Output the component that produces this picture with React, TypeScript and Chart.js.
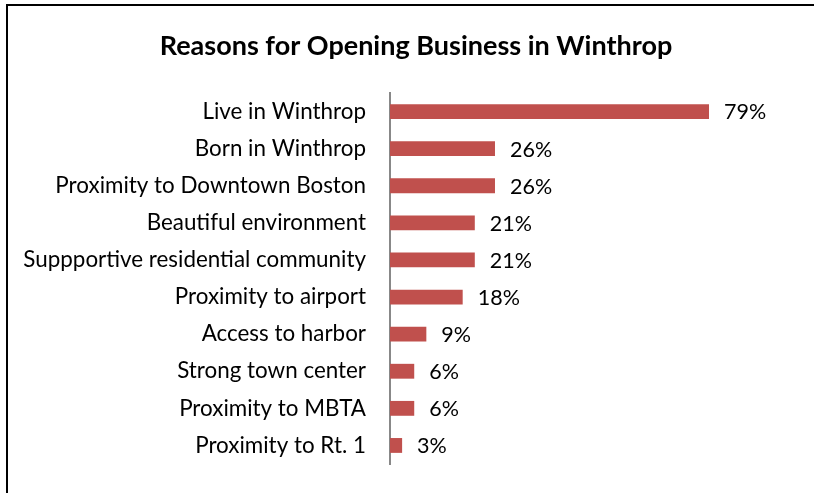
import React, { useEffect, useRef } from "react";
import { Chart, registerables } from "chart.js";

Chart.register(...registerables);

const categories = [
  "Live in Winthrop",
  "Born in Winthrop",
  "Proximity to Downtown Boston",
  "Beautiful environment",
  "Suppportive residential community",
  "Proximity to airport",
  "Access to harbor",
  "Strong town center",
  "Proximity to MBTA",
  "Proximity to Rt. 1",
];
const values = [79, 26, 26, 21, 21, 18, 9, 6, 6, 3];
const valueLabels = ["79%", "26%", "26%", "21%", "21%", "18%", "9%", "6%", "6%", "3%"];
const titleText = "Reasons for Opening Business in Winthrop";

const FONT = "Lato, 'Liberation Sans', sans-serif";

const labelPlugin = {
  id: "barValueLabels",
  afterDatasetsDraw(chart: any) {
    const ctx = chart.ctx;
    const meta = chart.getDatasetMeta(0);
    ctx.save();
    ctx.font = `21.5px ${FONT}`;
    ctx.fillStyle = "#000";
    ctx.textAlign = "left";
    ctx.textBaseline = "middle";
    meta.data.forEach((bar: any, i: number) => {
      ctx.fillText(valueLabels[i], bar.x + 15, bar.y + 1);
    });
    ctx.restore();
  },
};

export default function App() {
  const ref = useRef<HTMLCanvasElement | null>(null);
  useEffect(() => {
    document.body.style.margin = "0";
    const chart = new Chart(ref.current!, {
      type: "bar",
      data: {
        labels: categories,
        datasets: [
          {
            data: values,
            backgroundColor: "#C0504D",
            borderWidth: 0,
            categoryPercentage: 0.5,
            barPercentage: 0.8,
          },
        ],
      },
      options: {
        indexAxis: "y",
        animation: false,
        responsive: false,
        maintainAspectRatio: false,
        layout: { padding: { left: 18, right: 0, top: 0, bottom: 29 } },
        plugins: {
          legend: { display: false },
          tooltip: { enabled: false },
          title: {
            display: true,
            text: titleText,
            color: "#000",
            font: { family: FONT, size: 27, weight: "bold" },
            padding: { top: 30, bottom: 30.6 },
          },
        },
        scales: {
          x: { display: false, min: 0, max: 105 },
          y: {
            grid: { display: false, drawTicks: false },
            border: { display: true, color: "#888888", width: 2 },
            ticks: {
              color: "#000",
              padding: 24,
              font: { family: FONT, size: 22.4 },
            },
            afterFit(scale: any) {
              scale.width = 372;
              scale.paddingTop = 0;
              scale.paddingBottom = 0;
            },
          },
        },
      },
      plugins: [labelPlugin],
    });
    return () => chart.destroy();
  }, []);
  return (
    <div style={{ position: "relative", width: 814, height: 493, background: "#fff" }}>
      <canvas ref={ref} width={814} height={493} style={{ display: "block" }} />
      <div
        style={{
          position: "absolute",
          left: 6,
          top: 4,
          right: 0,
          bottom: 0,
          borderLeft: "2px solid #000",
          borderTop: "2px solid #000",
          pointerEvents: "none",
        }}
      />
    </div>
  );
}
